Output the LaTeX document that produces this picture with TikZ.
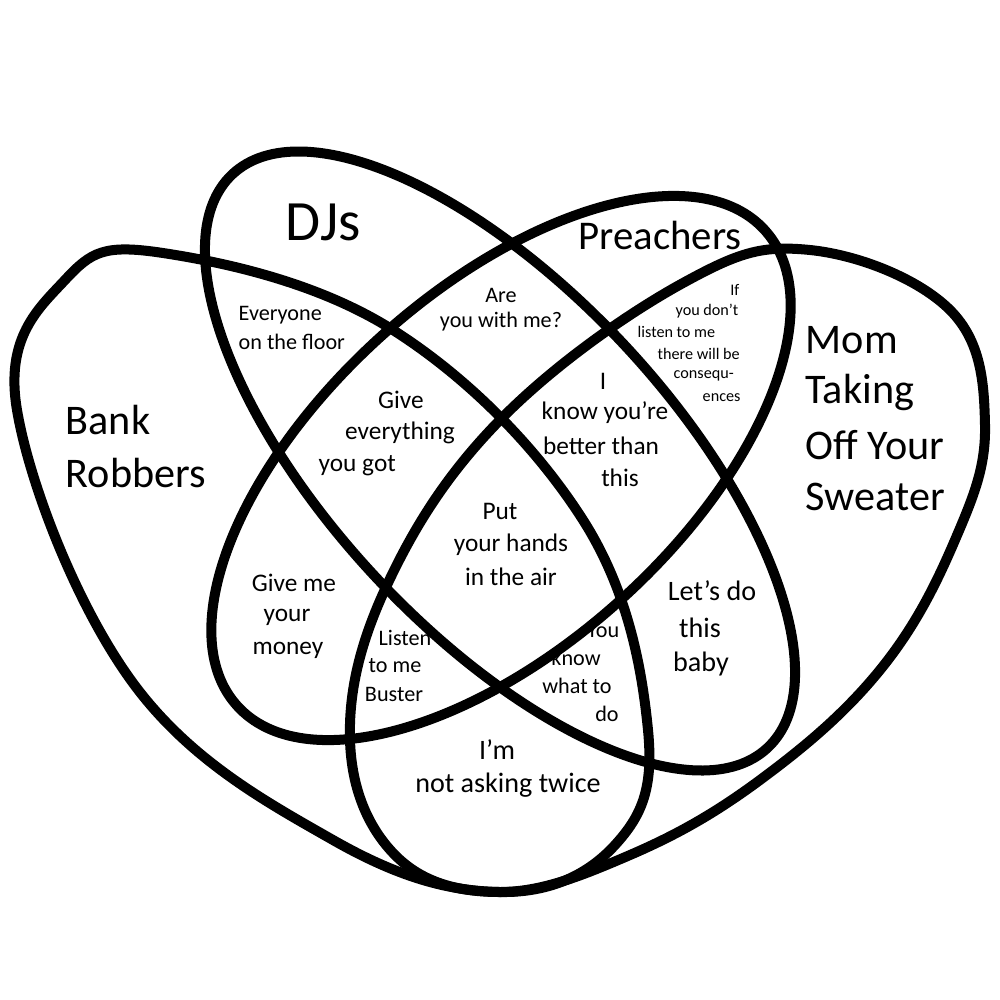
\documentclass[tikz,border=0pt]{standalone}
\usepackage{fontspec}
\setmainfont{Carlito}
\newcommand{\sq}{\char"0027\relax}
\begin{document}
\begin{tikzpicture}[x=0.01cm,y=-0.01cm,
  outline/.style={line width=0.1cm, line join=round},
  huge/.style={font=\fontsize{16.2}{19}\selectfont, inner sep=0},
  big/.style={font=\fontsize{12}{15}\selectfont, inner sep=0, anchor=west},
  mid/.style={font=\fontsize{8}{10}\selectfont, inner sep=0},
  med/.style={font=\fontsize{7.2}{9}\selectfont, inner sep=0},
  sml/.style={font=\fontsize{6.3}{8}\selectfont, inner sep=0},
  tiny/.style={font=\fontsize{4.6}{6}\selectfont, inner sep=0}]
\useasboundingbox (0,0) rectangle (1000,1000);
% DJs ellipse
\draw[outline, rotate around={-47:(500,461)}] (500,461) ellipse [x radius=3.92cm, y radius=1.70cm];
% Preachers ellipse
\draw[outline, rotate around={42:(501,468)}] (501,468) ellipse [x radius=3.55cm, y radius=1.78cm];
% Bank Robbers
\draw[outline] plot[smooth cycle, tension=0.65] coordinates {(163,253) (393,330) (583,520) (648,730) (615,845) (500,892) (333,840) (133,683) (17,410) (65,280)};
% Mom
\draw[outline] plot[smooth cycle, tension=0.65] coordinates {(810,250) (950,310) (985,425) (955,540) (880,670) (760,780) (630,855) (500,892) (395,855) (350,740) (387,585) (500,420) (683,283)};
% Labels
\node[huge] (dj) at (323,222) {DJs};
\node[font=\fontsize{11.6}{14}\selectfont, inner sep=0] (pr) at (660,235) {Preachers};
\node[big] (br1) at (65,420) {Bank};
\node[big] (br2) at (65,473) {Robbers};
\node[big] (m1) at (805,340) {Mom};
\node[big] (m2) at (805,392) {Taking};
\node[big] (m3) at (805,445) {Off Your};
\node[big] (m4) at (805,497) {Sweater};
\node[sml, anchor=west] (ev1) at (238,315) {Everyone};
\node[sml, anchor=west] (ev2) at (238,342) {on the floor};
\node[sml] (ar1) at (501,295) {Are};
\node[sml] (ar2) at (501,322) {you with me?};
\node[tiny, anchor=east] (if1) at (740,290) {If};
\node[tiny] (if2) at (707,311) {you don\sq t};
\node[tiny, anchor=west] (if3) at (637,332) {listen to me};
\node[tiny, anchor=west] (if4) at (657,354) {there will be};
\node[tiny, anchor=west] (if5) at (673,376) {consequ-};
\node[tiny, anchor=west] (if6) at (702,398) {ences};
\node[med] (ge1) at (401,400) {Give};
\node[med] (ge2) at (400,433) {everything};
\node[med, anchor=west] (ge3) at (318,466) {you got};
\node[med] (ik1) at (603,381) {I};
\node[med] (ik2) at (605,413) {know you\sq re};
\node[med] (ik3) at (601,446) {better than};
\node[med] (ik4) at (620,478) {this};
\node[med] (pu1) at (500,511) {Put};
\node[med] (pu2) at (511,545) {your hands};
\node[med] (pu3) at (511,577) {in the air};
\node[med] (gm1) at (294,583) {Give me};
\node[med] (gm2) at (287,617) {your};
\node[med] (gm3) at (288,650) {money};
\node[sml] (li1) at (405,638) {Listen};
\node[sml] (li2) at (395,666) {to me};
\node[sml] (li3) at (394,694) {Buster};
\node[sml] (yk1) at (603,630) {You};
\node[sml] (yk2) at (576,658) {know};
\node[sml] (yk3) at (577,686) {what to};
\node[sml] (yk4) at (607,714) {do};
\node[mid] (ld1) at (712,591) {Let\sq s do};
\node[mid] (ld2) at (700,628) {this};
\node[mid] (ld3) at (701,664) {baby};
\node[mid] (im1) at (497,750) {I\sq m};
\node[mid] (im2) at (508,785) {not asking twice};
\end{tikzpicture}
\end{document}
